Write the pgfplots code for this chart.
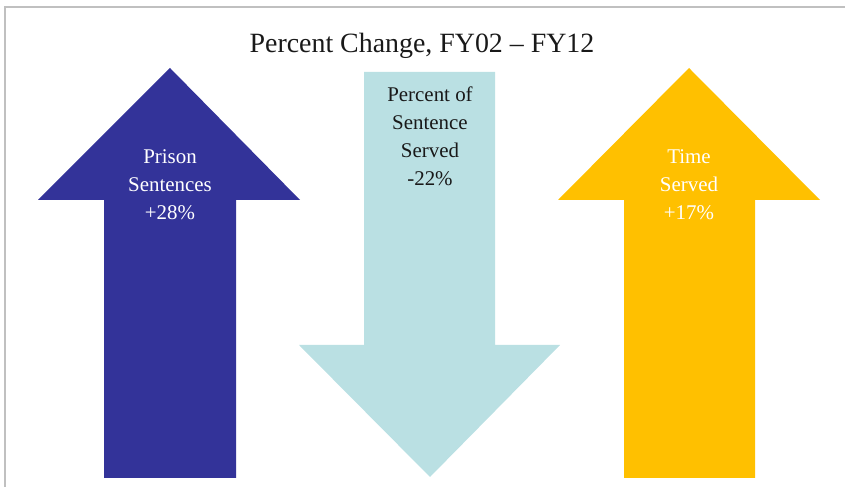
\documentclass[border=0pt]{standalone}
\usepackage{pgfplots}
\pgfplotsset{compat=1.18}
\usepackage{fontspec}
\setmainfont{Liberation Serif}
\definecolor{arrblue}{RGB}{51,51,153}
\definecolor{arrcyan}{RGB}{186,224,227}
\definecolor{arryellow}{RGB}{255,192,0}
\definecolor{framegray}{RGB}{192,192,192}
\begin{document}
\begin{tikzpicture}
\begin{axis}[
  width=845bp, height=487bp, scale only axis,
  xmin=0, xmax=845, ymin=0, ymax=487,
  hide axis, clip=false,
]
% frame
\addplot[draw=framegray, line width=2.5bp] coordinates {(5,0) (5,480) (845,480)};
% Prison Sentences +28 (up arrow)
\addplot[fill=arrblue, draw=none] coordinates {(104,9) (104,287) (38,287) (170,419) (300,287) (236,287) (236,9)} -- cycle;
% Percent of Sentence Served -22 (down arrow)
\addplot[fill=arrcyan, draw=none] coordinates {(364,415) (364,142) (299,142) (430,10) (560,142) (495,142) (495,415)} -- cycle;
% Time Served +17 (up arrow)
\addplot[fill=arryellow, draw=none] coordinates {(624,9) (624,287) (558,287) (689,419) (820,287) (755,287) (755,9)} -- cycle;
\node[font=\fontsize{28}{32}\selectfont, text=black!90] at (axis cs:422,441) {Percent Change, FY02 -- FY12};
\node[font=\fontsize{21}{28}\selectfont, text=white, align=center] at (axis cs:170,302) {Prison\\Sentences\\+28\%};
\node[font=\fontsize{21}{28}\selectfont, text=black!90, align=center] at (axis cs:430,351) {Percent of\\Sentence\\Served\\-22\%};
\node[font=\fontsize{21}{28}\selectfont, text=white, align=center] at (axis cs:689,302) {Time\\Served\\+17\%};
\end{axis}
\pgfresetboundingbox
\useasboundingbox (current axis.south west) rectangle (current axis.north east);
\end{tikzpicture}
\end{document}
